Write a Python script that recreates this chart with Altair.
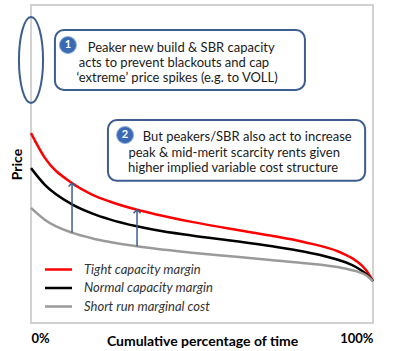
import altair as alt
import pandas as pd

# ---- data ----
x_pct = [0, 4, 12, 18, 23, 31, 36, 47, 60, 70, 80, 90, 95, 98, 100]
tight = [59.7, 52.0, 44.0, 40.3, 38.2, 35.6, 34.3, 31.8, 29.3, 27.5, 25.4, 22.4, 19.6, 16.6, 13.2]
normal = [48.7, 43.5, 37.3, 34.4, 32.6, 30.4, 29.3, 27.5, 25.7, 24.2, 22.4, 19.8, 17.6, 15.4, 13.2]
srmc = [36.2, 32.5, 28.4, 26.6, 25.5, 24.1, 23.4, 22.1, 20.8, 19.8, 18.8, 17.5, 16.3, 15.0, 13.2]

series_names = ["Tight capacity margin", "Normal capacity margin", "Short run marginal cost"]
series_colors = ["#ff0000", "#000000", "#9a9a9a"]

arrow_x = [12, 31]
arrow_low = [28.4, 24.1]
arrow_high = [44.0, 35.6]

box1_lines = ["Peaker new build & SBR capacity",
              "acts to prevent blackouts and cap",
              "\u2018extreme\u2019 price spikes (e.g. to VOLL)"]
box2_lines = ["But peakers/SBR also act to increase",
              "peak & mid-merit scarcity rents given",
              "higher implied variable cost structure"]
badges = ["1", "2"]

# ---- annotation placement (data coordinates) ----
boxes = pd.DataFrame({"x": [7.0, 22.5], "x2": [80.1, 97.7], "y": [92.1, 63.8], "y2": [73.3, 44.7]})
badge_df = pd.DataFrame({"x": [10.8, 27.5], "y": [87.4, 59.1], "t": badges})
text_df = pd.DataFrame({
    "x": [43.9, 41.8, 42.7, 63.2, 59.4, 59.1],
    "y": [86.5, 81.8, 77.0, 58.5, 53.5, 48.7],
    "t": box1_lines + box2_lines,
})
ellipse_df = pd.DataFrame({"x": [0], "y": [82.7]})

rows = []
for name, vals in zip(series_names, [tight, normal, srmc]):
    for xv, yv in zip(x_pct, vals):
        rows.append({"x": xv, "y": yv, "series": name})
curves = pd.DataFrame(rows)
arrows = pd.DataFrame({"x": arrow_x, "lo": arrow_low, "hi": arrow_high})

FONT = "Lato"
BLUE = "#3d5d8f"

xs = alt.Scale(domain=[0, 100], nice=False, zero=False)
ys = alt.Scale(domain=[0, 100], nice=False, zero=False)

x_axis = alt.Axis(values=[0, 100], labelExpr="datum.value + '%'", labelFlush=True, labelFlushOffset=0,
                  ticks=False, domain=False, grid=False, labelPadding=9,
                  labelFontWeight="bold", labelFontSize=13, labelFont=FONT, labelColor="#000",
                  title="Cumulative percentage of time", titleFontSize=14, titleFont=FONT,
                  titleFontWeight="bold", titleY=22, titleBaseline="alphabetic", titleColor="#000")
y_axis = alt.Axis(labels=False, ticks=False, domain=False, grid=False, title="Price",
                  titleFontSize=14, titleFont=FONT, titleFontWeight="bold", titlePadding=7,
                  titleColor="#000")

lines = alt.Chart(curves).mark_line(strokeWidth=2.5, interpolate="monotone").encode(
    x=alt.X("x:Q", scale=xs, axis=x_axis),
    y=alt.Y("y:Q", scale=ys, axis=y_axis),
    color=alt.Color("series:N", scale=alt.Scale(domain=series_names, range=series_colors),
                    legend=alt.Legend(orient="none", legendX=21, legendY=258, title=None,
                                      symbolType="M-3,0H3", symbolSize=81, symbolStrokeWidth=2.5,
                                      labelOffset=19, labelFontSize=13, labelFont=FONT,
                                      labelFontStyle="italic", labelColor="#333", rowPadding=4.5,
                                      padding=0)),
    detail="series:N",
)

arrow_rules = alt.Chart(arrows).mark_rule(color=BLUE, strokeWidth=1.5).encode(
    x="x:Q", y="lo:Q", y2="hi:Q")
arrow_heads = alt.Chart(arrows).mark_point(shape="M-1,1L0,0L1,1", size=49, filled=False,
                                           color=BLUE, strokeWidth=1.5, opacity=1).encode(
    x="x:Q", y="hi:Q")

rects = alt.Chart(boxes).mark_rect(cornerRadius=9, fill="white", stroke=BLUE, strokeWidth=2).encode(
    x="x:Q", x2="x2:Q", y="y:Q", y2="y2:Q")

badge_pts = alt.Chart(badge_df).mark_point(shape="circle", size=289, filled=True, fill="#3b6ab3",
                                           stroke="#8fb0dd", strokeWidth=1, opacity=1).encode(
    x="x:Q", y="y:Q")
badge_txt = alt.Chart(badge_df).mark_text(color="white", fontSize=11, font=FONT, fontWeight="bold",
                                          baseline="middle").encode(x="x:Q", y="y:Q", text="t:N")

box_txt = alt.Chart(text_df).mark_text(fontSize=13, font=FONT, color="#1a1a1a", baseline="middle",
                                       align="center").encode(x="x:Q", y="y:Q", text="t:N")

ellipse = alt.Chart(ellipse_df).mark_point(
    shape="M0,-1A0.28,1 0 1,1 0,1A0.28,1 0 1,1 0,-1Z", size=7396, filled=False,
    color=BLUE, strokeWidth=2, opacity=1).encode(x="x:Q", y="y:Q")

chart = alt.layer(lines, arrow_rules, arrow_heads, rects, badge_pts, badge_txt, box_txt, ellipse).properties(
    width=342, height=318,
    padding={"left": 31, "top": 5, "right": 27, "bottom": 28},
    autosize=alt.AutoSizeParams(type="none"),
    background="white",
).configure_view(stroke="#c4c4c4", strokeWidth=1.5)

chart.save("out.html", embed_options={"renderer": "svg", "actions": False})
